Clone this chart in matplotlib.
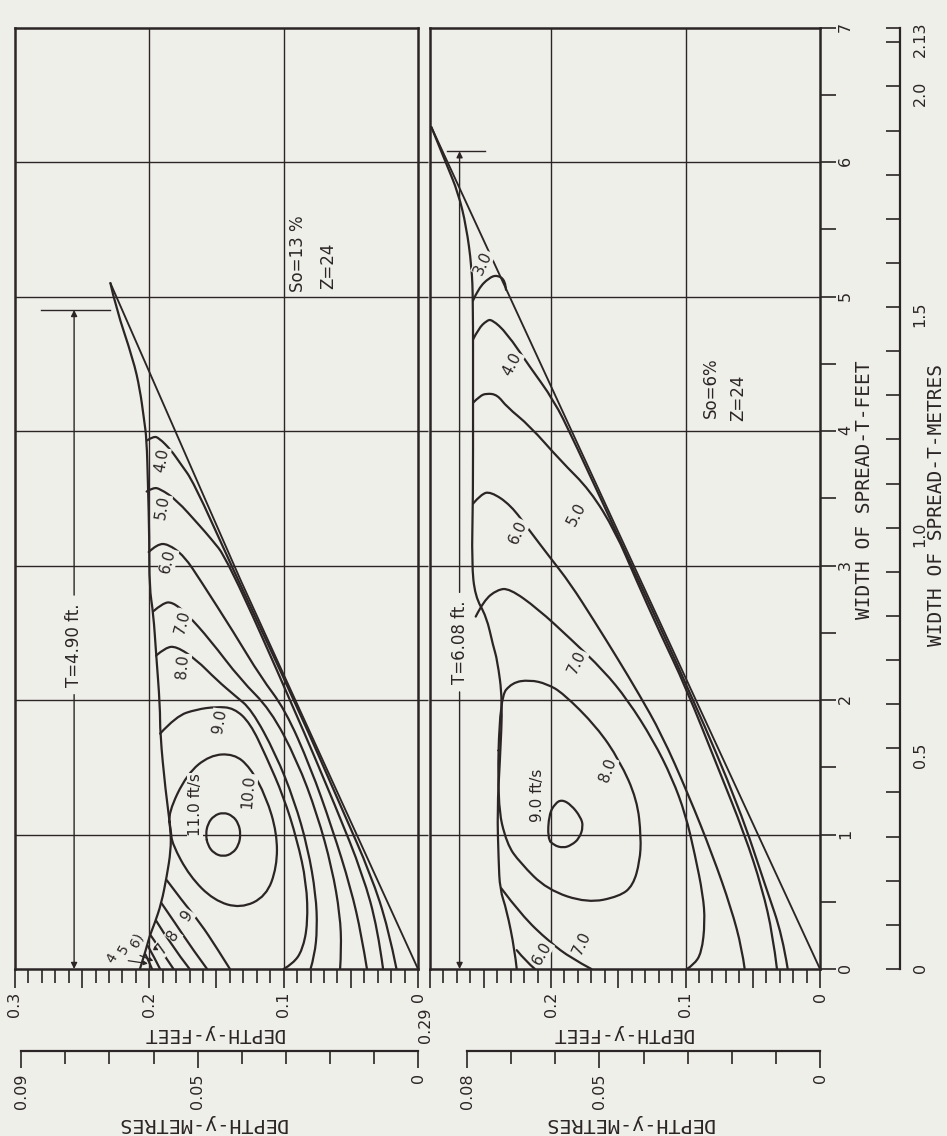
import matplotlib
matplotlib.use("Agg")
import matplotlib.pyplot as plt
from matplotlib.ticker import FixedLocator, FixedFormatter
from matplotlib.path import Path
from matplotlib.patches import PathPatch

FT2M = 0.3048
BG = "#efefea"
INK = "#2b2526"

# ---------------- axis layout values ----------------
T_max = 7.0
T_grid = [1, 2, 3, 4, 5, 6]
D_grid = [0.1, 0.2]
L_depth_max = 0.30
R_depth_max = 0.29
L_major = [0.30, 0.25, 0.20, 0.15, 0.10, 0.05, 0.0]
L_major_lab = ["0.3", "", "0.2", "", "0.1", "", "0"]
R_major = [0.29, 0.25, 0.20, 0.15, 0.10, 0.05, 0.0]
R_major_lab = ["", "", "0.2", "", "0.1", "", "0"]
R_edge_lab = "0.29"
D_minor = [i / 100 for i in range(1, 30)]
T_major = [0, 1, 2, 3, 4, 5, 6, 7]
T_minor = [0.5, 1.5, 2.5, 3.5, 4.5, 5.5, 6.5]
LM_major = [0.09, 0.05, 0.0]
LM_major_lab = ["0.09", "0.05", "0"]
LM_minor = [0.01, 0.02, 0.03, 0.04, 0.06, 0.07, 0.08]
RM_major = [0.08, 0.05, 0.0]
RM_major_lab = ["0.08", "0.05", "0"]
RM_minor = [0.01, 0.02, 0.03, 0.04, 0.06, 0.07]
TM_major = [0.0, 0.5, 1.0, 1.5, 2.0, 2.1336]
TM_major_lab = ["0", "0.5", "1.0", "1.5", "2.0", "2.13"]
TM_minor = [0.1, 0.2, 0.3, 0.4, 0.6, 0.7, 0.8, 0.9, 1.1, 1.2, 1.3, 1.4,
            1.6, 1.7, 1.8, 1.9, 2.1]

# ---------------- left panel: So = 13 %, Z = 24 (depth ft, width ft) ----------------
L_bed_d = [0.0, 0.132, 0.229]
L_bed_T = [0.0, 2.89, 5.10]
L_surf_d = [0.229, 0.225, 0.212, 0.207, 0.204, 0.202, 0.201, 0.200, 0.200, 0.197, 0.195,
            0.192, 0.192, 0.188, 0.184, 0.184, 0.187, 0.191, 0.196, 0.200, 0.202, 0.207]
L_surf_T = [5.10, 4.92, 4.53, 4.31, 4.09, 3.94, 3.60, 3.20, 2.84, 2.64, 2.35,
            1.95, 1.75, 1.33, 1.03, 0.88, 0.69, 0.49, 0.34, 0.24, 0.16, 0.0]
L_v4_d = [0.2017, 0.197, 0.193, 0.184, 0.177, 0.167, 0.139, 0.089, 0.057, 0.035, 0.022, 0.016]
L_v4_T = [3.93, 3.96, 3.95, 3.86, 3.76, 3.62, 3.00, 1.93, 1.20, 0.70, 0.30, 0.0]
L_v5_d = [0.202, 0.197, 0.192, 0.180, 0.162, 0.155, 0.142, 0.092, 0.061, 0.041, 0.030, 0.026]
L_v5_T = [3.55, 3.58, 3.57, 3.49, 3.29, 3.21, 3.05, 1.93, 1.20, 0.70, 0.30, 0.0]
L_v6_d = [0.2005, 0.194, 0.186, 0.174, 0.162, 0.137, 0.117, 0.099, 0.080, 0.064, 0.050, 0.042, 0.038]
L_v6_T = [3.10, 3.16, 3.16, 3.07, 2.89, 2.50, 2.17, 1.93, 1.50, 1.05, 0.60, 0.25, 0.0]
L_v7_d = [0.197, 0.190, 0.183, 0.172, 0.155, 0.132, 0.110, 0.090, 0.075, 0.064, 0.058, 0.057, 0.058]
L_v7_T = [2.66, 2.72, 2.73, 2.64, 2.45, 2.15, 1.93, 1.55, 1.15, 0.75, 0.40, 0.15, 0.0]
L_v8_d = [0.195, 0.188, 0.180, 0.165, 0.150, 0.136, 0.124, 0.106, 0.092, 0.082, 0.076, 0.075, 0.077, 0.080]
L_v8_T = [2.33, 2.39, 2.40, 2.30, 2.15, 2.03, 1.93, 1.60, 1.25, 0.90, 0.55, 0.30, 0.10, 0.0]
L_v9_d = [0.192, 0.180, 0.165, 0.150, 0.137, 0.125, 0.113, 0.100, 0.090, 0.083, 0.082,
          0.086, 0.093, 0.100]
L_v9_T = [1.75, 1.88, 1.93, 1.95, 1.94, 1.83, 1.58, 1.28, 0.96, 0.64, 0.34,
          0.14, 0.04, 0.0]
L_v10_d = [0.186, 0.172, 0.155, 0.137, 0.125, 0.113, 0.105, 0.105, 0.113, 0.132, 0.152,
           0.170, 0.183, 0.184, 0.186]
L_v10_T = [1.16, 1.45, 1.59, 1.60, 1.50, 1.28, 1.01, 0.76, 0.54, 0.45, 0.51,
           0.69, 0.93, 1.03, 1.16]
L_v11_d = [0.158, 0.1565, 0.152, 0.145, 0.138, 0.1335, 0.132, 0.1335, 0.138, 0.145, 0.152, 0.1565, 0.158]
L_v11_T = [1.00, 1.08, 1.14, 1.165, 1.14, 1.08, 1.00, 0.92, 0.86, 0.835, 0.86, 0.92, 1.00]
# branches running from the water surface down to the curb (lower left corner)
L_c9_d = [0.187, 0.175, 0.162, 0.150, 0.140]
L_c9_T = [0.66, 0.50, 0.34, 0.16, 0.0]
L_c8_d = [0.191, 0.180, 0.168, 0.157]
L_c8_T = [0.49, 0.33, 0.15, 0.0]
L_c7_d = [0.195, 0.184, 0.170]
L_c7_T = [0.36, 0.18, 0.0]
L_c6_d = [0.199, 0.190, 0.182]
L_c6_T = [0.25, 0.12, 0.0]
L_c5_d = [0.201, 0.196, 0.192]
L_c5_T = [0.17, 0.08, 0.0]
L_c4_d = [0.203, 0.200, 0.198]
L_c4_T = [0.11, 0.05, 0.0]

L_lab_text = ["4.0", "5.0", "6.0", "7.0", "8.0", "9.0", "10.0", "11.0 ft/s", "9", "8", "7"]
L_lab_d = [0.191, 0.190, 0.186, 0.175, 0.175, 0.148, 0.126, 0.166, 0.172, 0.182, 0.191]
L_lab_T = [3.78, 3.43, 3.03, 2.58, 2.25, 1.84, 1.32, 1.22, 0.40, 0.25, 0.15]
L_lab_rot = [80, 80, 75, 75, 85, 80, 85, 90, 55, 55, 55]
L_small_text = ["4", "5", "6)"]
L_small_d = [0.228, 0.219, 0.209]
L_small_T = [0.08, 0.15, 0.215]
L_small_tip_d = [0.201, 0.197, 0.193]
L_small_tip_T = [0.04, 0.06, 0.14]

# ---------------- right panel: So = 6 %, Z = 24 ----------------
R_bed_d = [0.0, 0.289]
R_bed_T = [0.0, 6.26]
R_surf_d = [0.289, 0.278, 0.269, 0.263, 0.259, 0.258, 0.258, 0.258, 0.259, 0.2565, 0.248,
            0.243, 0.240, 0.236, 0.238, 0.240, 0.239, 0.238, 0.233, 0.227, 0.2255]
R_surf_T = [6.26, 5.99, 5.77, 5.52, 5.22, 4.97, 4.23, 3.50, 3.02, 2.77, 2.62,
            2.40, 2.30, 2.00, 1.55, 1.18, 0.81, 0.59, 0.44, 0.14, 0.0]
R_v3_d = [0.258, 0.254, 0.246, 0.240, 0.234, 0.2335]
R_v3_T = [4.97, 5.06, 5.14, 5.16, 5.12, 5.05]
R_v4_d = [0.258, 0.254, 0.248, 0.244, 0.233, 0.216, 0.198, 0.184, 0.140, 0.094, 0.060, 0.040, 0.028, 0.024]
R_v4_T = [4.68, 4.76, 4.82, 4.83, 4.73, 4.48, 4.23, 3.95, 3.00, 2.00, 1.20, 0.60, 0.25, 0.0]
R_v5_d = [0.258, 0.253, 0.248, 0.240, 0.233, 0.216, 0.193, 0.171, 0.152, 0.137, 0.119, 0.100,
          0.076, 0.056, 0.043, 0.035, 0.032]
R_v5_T = [4.21, 4.26, 4.28, 4.27, 4.18, 4.04, 3.78, 3.56, 3.25, 2.90, 2.50, 2.10,
          1.50, 1.00, 0.60, 0.25, 0.0]
R_v6_d = [0.258, 0.252, 0.245, 0.230, 0.216, 0.200, 0.186, 0.168, 0.150, 0.135, 0.118, 0.098,
          0.080, 0.066, 0.058, 0.056]
R_v6_T = [3.46, 3.53, 3.55, 3.45, 3.26, 3.05, 2.87, 2.59, 2.30, 2.05, 1.75, 1.30,
          0.85, 0.45, 0.15, 0.0]
R_v7_d = [0.256, 0.250, 0.240, 0.231, 0.210, 0.185, 0.161, 0.143, 0.124, 0.110, 0.100, 0.093,
          0.087, 0.0855, 0.088, 0.094, 0.099]
R_v7_T = [2.62, 2.74, 2.82, 2.83, 2.68, 2.45, 2.22, 2.00, 1.70, 1.42, 1.15, 0.85,
          0.55, 0.35, 0.12, 0.03, 0.0]
R_v8_d = [0.238, 0.229, 0.216, 0.203, 0.191, 0.166, 0.149, 0.136, 0.133, 0.134, 0.139,
          0.149, 0.173, 0.203, 0.223, 0.233, 0.240, 0.238]
R_v8_T = [2.02, 2.13, 2.15, 2.12, 2.05, 1.80, 1.55, 1.26, 0.98, 0.80, 0.62,
          0.54, 0.49, 0.59, 0.79, 0.93, 1.23, 2.02]
R_v9_d = [0.2025, 0.2015, 0.197, 0.192, 0.185, 0.178, 0.176, 0.179, 0.185, 0.191, 0.198, 0.2025]
R_v9_T = [0.97, 1.15, 1.23, 1.26, 1.22, 1.13, 1.06, 0.97, 0.92, 0.90, 0.92, 0.97]
R_c7_d = [0.237, 0.222, 0.201, 0.185, 0.170]
R_c7_T = [0.60, 0.40, 0.20, 0.08, 0.0]
R_c6_d = [0.2255, 0.219, 0.212]
R_c6_T = [0.14, 0.06, 0.0]

R_lab_text = ["3.0", "4.0", "5.0", "6.0", "7.0", "8.0", "9.0 ft/s", "6.0", "7.0"]
R_lab_d = [0.2506, 0.229, 0.1807, 0.2245, 0.1807, 0.158, 0.2097, 0.207, 0.177]
R_lab_T = [5.25, 4.50, 3.38, 3.25, 2.28, 1.48, 1.29, 0.12, 0.19]
R_lab_rot = [65, 62, 62, 65, 65, 70, 90, 60, 65]

# spread dimension markers
L_T_spread = 4.90
R_T_spread = 6.08
L_dim_d = 0.256
R_dim_d = 0.268
L_bar_d = [0.281, 0.229]
R_bar_d = [0.277, 0.249]
L_gap_T = [2.04, 2.78]
R_gap_T = [2.06, 2.80]

# ---------------- figure ----------------
W, H = 947, 1136
fig = plt.figure(figsize=(W / 100, H / 100), dpi=100, facecolor=BG)


def px_axes(x0, y0, x1, y1):
    ax = fig.add_axes([x0 / W, 1 - y1 / H, (x1 - x0) / W, (y1 - y0) / H])
    ax.set_facecolor("none")
    return ax


def fig_text(x, y, s, **kw):
    fig.text(x / W, 1 - y / H, s, ha="center", va="center", color=INK, **kw)


ax1 = px_axes(15, 27.5, 418, 969)
ax2 = px_axes(430, 27.5, 820, 969)
ax1.set_xlim(L_depth_max, 0)
ax2.set_xlim(R_depth_max, 0)

for ax, maj, lab in ((ax1, L_major, L_major_lab), (ax2, R_major, R_major_lab)):
    ax.set_ylim(0, T_max)
    for s in ax.spines.values():
        s.set_linewidth(1.8)
        s.set_color(INK)
    for g in T_grid:
        ax.axhline(g, color=INK, lw=1.0, zorder=1)
    for g in D_grid:
        ax.axvline(g, color=INK, lw=1.0, zorder=1)
    ax.xaxis.set_major_locator(FixedLocator(maj))
    ax.xaxis.set_major_formatter(FixedFormatter(lab))
    ax.xaxis.set_minor_locator(FixedLocator(D_minor))
    ax.tick_params(axis="x", which="major", direction="out", length=13.5, width=1.2,
                   pad=3, labelsize=11.5, labelrotation=90, colors=INK)
    ax.tick_params(axis="x", which="minor", direction="out", length=10, width=1.2, colors=INK)

# edge label of the right panel depth scale, set a little lower (as in the drawing)
ax2.annotate(R_edge_lab, xy=(R_depth_max, 0), xycoords=("data", "axes fraction"),
             xytext=(-3, -28), textcoords="offset points", rotation=90,
             ha="center", va="top", fontsize=11.5, color=INK)

# small outward ticks between the panels
ax1.yaxis.set_major_locator(FixedLocator(T_grid))
ax1.yaxis.set_ticks_position("right")
ax1.tick_params(axis="y", direction="out", length=7, width=1.0, labelright=False, colors=INK)

# width-of-spread (feet) axis on the right of the right panel
ax2.yaxis.set_ticks_position("right")
ax2.yaxis.set_major_locator(FixedLocator(T_major))
ax2.yaxis.set_minor_locator(FixedLocator(T_minor))
ax2.tick_params(axis="y", which="both", direction="out", length=11.5, width=1.2, colors=INK)
ax2.tick_params(axis="y", which="major", labelsize=11.5, labelrotation=90, pad=1.5)

LW = 1.6


def smooth_path(d, T):
    """Quadratic B-spline path whose control points are the read-off points."""
    pts = list(zip(d, T))
    closed = pts[0] == pts[-1]
    mid = lambda a, b: ((a[0] + b[0]) / 2, (a[1] + b[1]) / 2)
    if closed:
        pts = pts[:-1]
        n = len(pts)
        verts = [mid(pts[-1], pts[0])]
        codes = [Path.MOVETO]
        for i in range(n):
            verts += [pts[i], mid(pts[i], pts[(i + 1) % n])]
            codes += [Path.CURVE3, Path.CURVE3]
        return Path(verts, codes)
    n = len(pts)
    if n < 3:
        return Path(pts)
    verts = [pts[0]]
    codes = [Path.MOVETO]
    for i in range(1, n - 1):
        end = pts[n - 1] if i == n - 2 else mid(pts[i], pts[i + 1])
        verts += [pts[i], end]
        codes += [Path.CURVE3, Path.CURVE3]
    return Path(verts, codes)


def draw(ax, d, T, lw=LW):
    ax.add_patch(PathPatch(smooth_path(d, T), fill=False, edgecolor=INK, lw=lw,
                           capstyle="round", joinstyle="round", zorder=3))


def draw_straight(ax, d, T, lw=1.35):
    ax.plot(d, T, color=INK, lw=lw, solid_capstyle="round", zorder=3)


# left panel curves
draw_straight(ax1, L_bed_d, L_bed_T)
draw(ax1, L_surf_d, L_surf_T)
for d, T in ((L_v4_d, L_v4_T), (L_v5_d, L_v5_T), (L_v6_d, L_v6_T), (L_v7_d, L_v7_T),
             (L_v8_d, L_v8_T), (L_v9_d, L_v9_T), (L_v10_d, L_v10_T), (L_v11_d, L_v11_T),
             (L_c9_d, L_c9_T), (L_c8_d, L_c8_T), (L_c7_d, L_c7_T), (L_c6_d, L_c6_T),
             (L_c5_d, L_c5_T), (L_c4_d, L_c4_T)):
    draw(ax1, d, T)
for s, d, T, r in zip(L_lab_text, L_lab_d, L_lab_T, L_lab_rot):
    ax1.text(d, T, s, rotation=r, ha="center", va="center", fontsize=11, color=INK,
             bbox=dict(boxstyle="square,pad=0.05", fc=BG, ec="none"), zorder=4)
for s, d, T, td, tT in zip(L_small_text, L_small_d, L_small_T, L_small_tip_d, L_small_tip_T):
    ax1.annotate(s, xy=(td, tT), xytext=(d, T), rotation=60, ha="center", va="center",
                 fontsize=10, color=INK, zorder=4,
                 arrowprops=dict(arrowstyle="-|>", color=INK, lw=0.9,
                                 mutation_scale=6, shrinkA=4, shrinkB=0))

# right panel curves
draw_straight(ax2, R_bed_d, R_bed_T)
draw(ax2, R_surf_d, R_surf_T)
for d, T in ((R_v3_d, R_v3_T), (R_v4_d, R_v4_T), (R_v5_d, R_v5_T), (R_v6_d, R_v6_T),
             (R_v7_d, R_v7_T), (R_v8_d, R_v8_T), (R_v9_d, R_v9_T), (R_c7_d, R_c7_T),
             (R_c6_d, R_c6_T)):
    draw(ax2, d, T)
for s, d, T, r in zip(R_lab_text, R_lab_d, R_lab_T, R_lab_rot):
    ax2.text(d, T, s, rotation=r, ha="center", va="center", fontsize=11, color=INK,
             bbox=dict(boxstyle="square,pad=0.05", fc=BG, ec="none"), zorder=4)


# spread dimension lines
def spread_marker(ax, dd, T_top, gap, bar, label):
    ap = dict(arrowstyle="-|>", color=INK, lw=1.0, mutation_scale=9, shrinkA=0, shrinkB=0)
    ax.annotate("", xy=(dd, 0.0), xytext=(dd, gap[0]), arrowprops=ap, zorder=3)
    ax.annotate("", xy=(dd, T_top), xytext=(dd, gap[1]), arrowprops=ap, zorder=3)
    ax.plot(bar, [T_top, T_top], color=INK, lw=1.0, zorder=3)
    ax.text(dd, (gap[0] + gap[1]) / 2, label, rotation=90, ha="center", va="center",
            fontsize=12, color=INK, zorder=4)


spread_marker(ax1, L_dim_d, L_T_spread, L_gap_T, L_bar_d, "T=4.90 ft.")
spread_marker(ax2, R_dim_d, R_T_spread, R_gap_T, R_bar_d, "T=6.08 ft.")

ax1.text(0.089, 5.32, "So=13 %", rotation=90, ha="center", va="center", fontsize=12, color=INK)
ax1.text(0.067, 5.23, "Z=24", rotation=90, ha="center", va="center", fontsize=12, color=INK)
ax2.text(0.0814, 4.32, "So=6%", rotation=90, ha="center", va="center", fontsize=12, color=INK)
ax2.text(0.0606, 4.25, "Z=24", rotation=90, ha="center", va="center", fontsize=12, color=INK)


# metric depth scales
def metres_axis(x0, x1, dmax_ft, mmax, maj, lab, mnr):
    axm = px_axes(x0, 1000, x1, 1051)
    axm.set_xlim(dmax_ft * FT2M, 0)
    for k in ("left", "right", "top"):
        axm.spines[k].set_visible(False)
    axm.spines["bottom"].set_bounds(0, mmax)
    axm.spines["bottom"].set_linewidth(1.6)
    axm.spines["bottom"].set_color(INK)
    axm.set_yticks([])
    axm.xaxis.set_major_locator(FixedLocator(maj))
    axm.xaxis.set_major_formatter(FixedFormatter(lab))
    axm.xaxis.set_minor_locator(FixedLocator(mnr))
    axm.tick_params(axis="x", which="major", direction="out", length=12.5, width=1.2,
                    pad=3.5, labelsize=11.5, labelrotation=90, colors=INK)
    axm.tick_params(axis="x", which="minor", direction="out", length=9.5, width=1.2, colors=INK)
    return axm


metres_axis(15, 418, L_depth_max, 0.09, LM_major, LM_major_lab, LM_minor)
metres_axis(430, 820, R_depth_max, 0.08, RM_major, RM_major_lab, RM_minor)

# metric width scale
axTm = px_axes(860, 27.5, 900, 969)
axTm.set_ylim(0, T_max * FT2M)
for k in ("left", "top", "bottom"):
    axTm.spines[k].set_visible(False)
axTm.spines["right"].set_bounds(0, T_max * FT2M)
axTm.spines["right"].set_linewidth(1.6)
axTm.spines["right"].set_color(INK)
axTm.set_xticks([])
axTm.yaxis.set_ticks_position("right")
axTm.yaxis.set_major_locator(FixedLocator(TM_major))
axTm.yaxis.set_major_formatter(FixedFormatter(TM_major_lab))
axTm.yaxis.set_minor_locator(FixedLocator(TM_minor))
axTm.tick_params(axis="y", which="both", direction="in", length=10, width=1.2, colors=INK)
axTm.tick_params(axis="y", which="major", labelsize=11.5, labelrotation=90, pad=9)

# axis titles
MONO = "DejaVu Sans Mono"
fig_text(213, 1033, "DEPTH-y-FEET", rotation=180, family=MONO, fontsize=14)
fig_text(622, 1033, "DEPTH-y-FEET", rotation=180, family=MONO, fontsize=14)
fig_text(202, 1123, "DEPTH-y-METRES", rotation=180, family=MONO, fontsize=14.5)
fig_text(629, 1123, "DEPTH-y-METRES", rotation=180, family=MONO, fontsize=14.5)
fig_text(864, 490, "WIDTH OF SPREAD-T-FEET", rotation=90, family=MONO, fontsize=14)
fig_text(936, 505, "WIDTH OF SPREAD-T-METRES", rotation=90, family=MONO, fontsize=14)

fig.savefig("out.png", dpi=100, facecolor=BG)
